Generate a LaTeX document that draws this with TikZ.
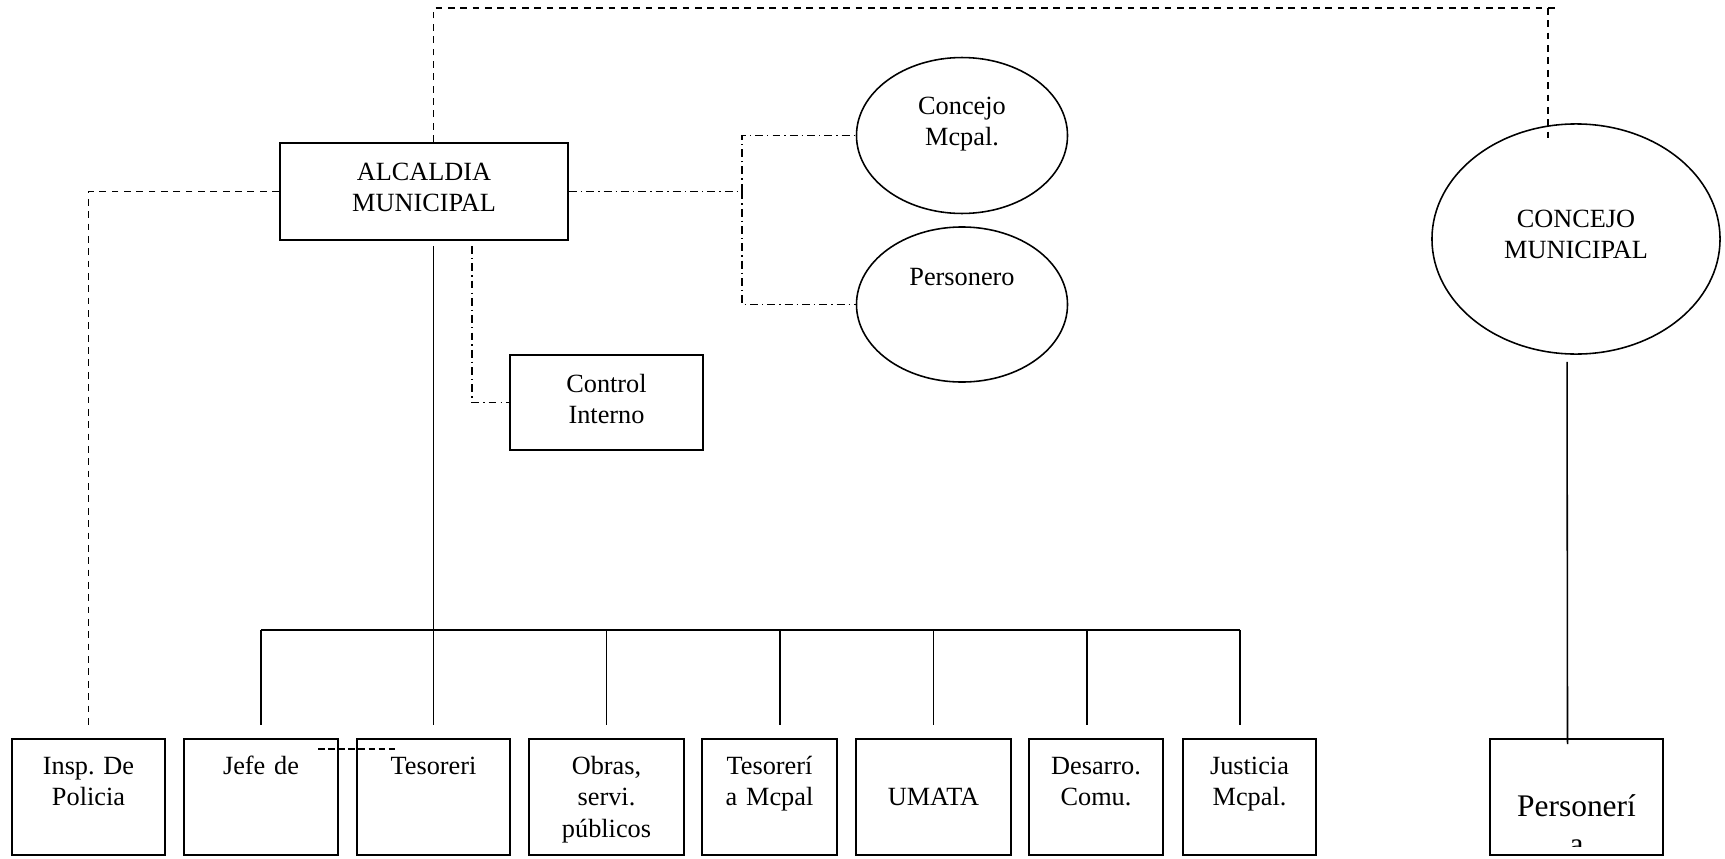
\documentclass[tikz,border=0pt]{standalone}
\usepackage{fontspec}
\setmainfont{Liberation Serif}
\usetikzlibrary{calc, positioning, shapes.geometric}
\frenchspacing

\begin{document}
\begin{tikzpicture}[
    x=0.445pt, y=-0.445pt,
    font=\fontsize{11.7}{13.8}\selectfont,
    office/.style={draw, rectangle, line width=0.9pt, inner sep=0pt, align=center, text height=16.5pt},
    unit/.style={draw, rectangle, line width=0.9pt, inner sep=0pt, align=center, text height=16pt, text depth=35.6pt},
    council/.style={draw, ellipse, line width=0.7pt, inner sep=0pt, align=center},
    txt/.style={align=center},
    link/.style={line width=0.7pt},
    dashlink/.style={line width=0.7pt, dash pattern=on 3pt off 2.5pt},
    dotlink/.style={line width=0.7pt, dash pattern=on 3.5pt off 1.8pt on 0.6pt off 1.8pt}
]
\useasboundingbox (0,0) rectangle (1725,858);

% top level
\node[office, text width=128.2pt, text depth=26.7pt] (alcaldia) at (424,191.5) {ALCALDIA\\MUNICIPAL};
\node[office, text width=85.9pt, text depth=25.8pt] (control) at (606.5,402.5) {Control\\Interno};
\node[council, minimum width=93.9pt, minimum height=69.4pt] (cmcpal) at (962,135.5) {};
\node[council, minimum width=93.9pt, minimum height=69pt] (personero) at (962,304.5) {};
\node[txt] (cmcpaltxt) at (962,124) {Concejo\\Mcpal.};
\node[txt] (personerotxt) at (962,277) {Personero};
\node[council, minimum width=128.2pt, minimum height=102.4pt, text width=70pt, text height=9pt, text depth=19.4pt] (concejo) at (1576,239) {CONCEJO\\MUNICIPAL};

% bottom row
\node[unit, text width=68.1pt] (insp) at (88.5,797) {Insp. De\\Policia};
\node[unit, text width=68.5pt] (jefe) at (261,797) {Jefe de};
\node[unit, text width=68.1pt] (tesoreri) at (433.5,797) {Tesoreri};
\node[unit, text width=69pt] (obras) at (606.5,797) {Obras,\\servi.\\públicos};
\node[unit, text width=60.1pt] (tesmcpal) at (769.5,797) {Tesorerí\\a Mcpal};
\node[unit, text width=69pt, text height=29.4pt, text depth=22.2pt] (umata) at (933.5,797) {UMATA};
\node[unit, text width=59.6pt] (desarro) at (1096,797) {Desarro.\\Comu.};
\node[unit, text width=59.2pt] (justicia) at (1249.5,797) {Justicia\\Mcpal.};
\node[unit, text width=77pt] (personeria) at (1576.5,797) {};
\begin{scope}
\clip (personeria.north west) rectangle ([yshift=4.4pt]personeria.south east);
\node[anchor=base, align=center, font=\fontsize{14}{16.5}\selectfont] (personeriatxt) at (1576.5,854) {Personerí\\a};
\end{scope}

\coordinate (topX) at (1560,8);
\coordinate (topR) at (1548,8);
\coordinate (ctop) at (1548,142);
\coordinate (fork) at (742,191.5);
\coordinate (busL) at (261,630);
\coordinate (busR) at (1240,630);
\coordinate (d3) at (780,630);
\coordinate (d5) at (1087,630);
\coordinate (s1) at (318,749);
\coordinate (s2) at (395,749);

% solid lines
\draw[link, shorten <=2.2pt, shorten >=5.8pt] (alcaldia.south -| tesoreri.north) -- (tesoreri.north);
\draw[link] (busL) -- (busR);
\draw[link, shorten >=5.8pt] (busL) -- (jefe.north);
\draw[link, shorten >=5.8pt] (obras.north |- busL) -- (obras.north);
\draw[link, shorten >=5.8pt] (d3) -- (d3 |- tesmcpal.north);
\draw[link, shorten >=5.8pt] (umata.north |- busL) -- (umata.north);
\draw[link, shorten >=5.8pt] (d5) -- (d5 |- desarro.north);
\draw[link, shorten >=5.8pt] (busR) -- (busR |- justicia.north);
\draw[link, shorten <=3.1pt, shorten >=-2.7pt] ([xshift=-4pt]concejo.south) -- ([xshift=-4pt]personeria.north);

% dashed lines
\draw[dashlink, shorten >=5.8pt] (alcaldia.west) -| (insp.north);
\draw[dashlink] (alcaldia.north -| tesoreri.north) |- (topX);
\draw[dashlink] (topR) -- (ctop);
\draw[line width=1.3pt, dash pattern=on 3pt off 1.5pt] (s1) -- (s2);

% dash-dot lines
\draw[dotlink] (alcaldia.east) -- (fork);
\draw[dotlink] (fork) |- (cmcpal.west);
\draw[dotlink] (fork) |- (personero.west);
\draw[dotlink, shorten <=2.2pt] ([xshift=21.4pt]alcaldia.south) |- (control.west);

\end{tikzpicture}
\end{document}
